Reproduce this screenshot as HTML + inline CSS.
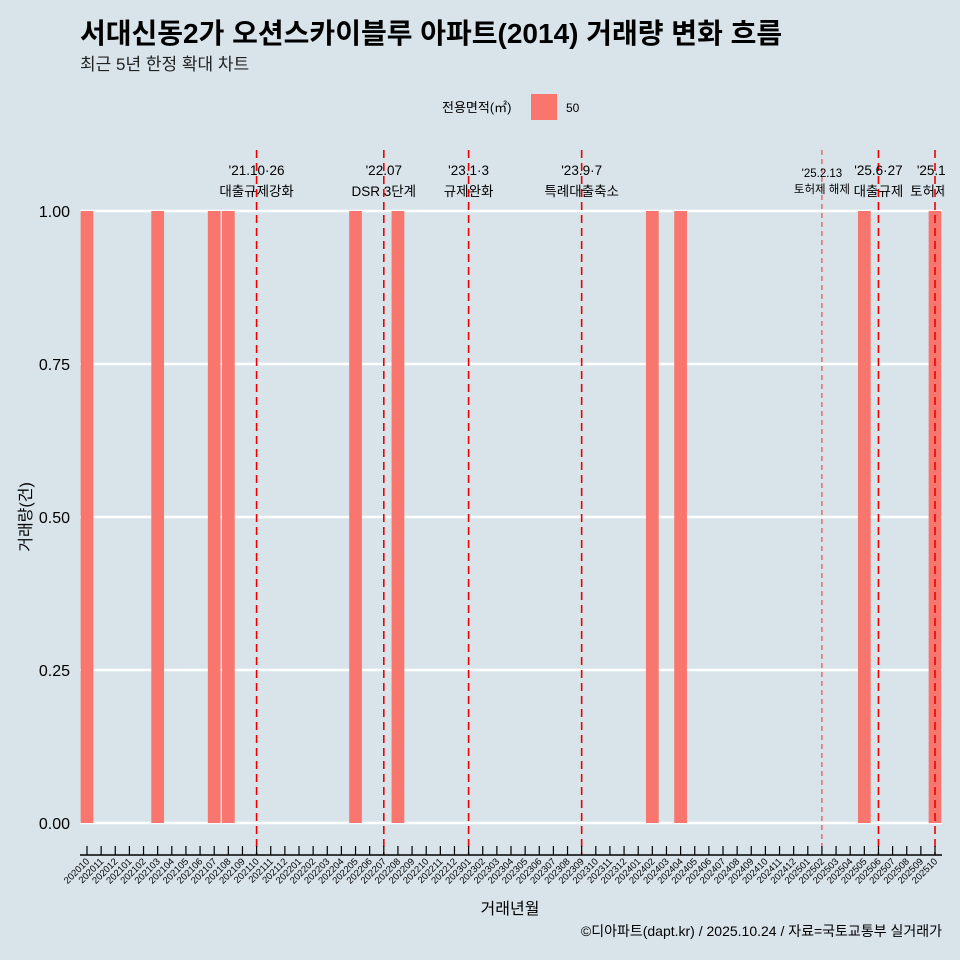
<!DOCTYPE html>
<html><head><meta charset="utf-8"><style>
body{margin:0;background:#d8e4ea;}
svg{display:block;font-family:"Liberation Sans","Noto Sans CJK KR",sans-serif;}
</style></head><body>
<svg id="c" width="960" height="960">
<rect width="960" height="960" fill="#d8e4ea"/>
<text x="80" y="43" font-size="28" font-weight="bold" fill="#000">서대신동2가 오션스카이블루 아파트(2014) 거래량 변화 흐름</text>
<text x="80" y="70" font-size="17" fill="#222">최근 5년 한정 확대 차트</text>
<g>
<text x="442" y="112" font-size="13">전용면적(㎡)</text>
<rect x="531" y="94" width="26" height="26" fill="#f8766d"/>
<text x="566" y="112" font-size="12">50</text>
</g>
<defs><clipPath id="pc"><rect x="80" y="140" width="865" height="720"/></clipPath></defs>
<g id="grid"></g><g id="bars"></g><g id="vl" clip-path="url(#pc)"></g><g id="ax"></g>
<text x="510" y="914" font-size="16" text-anchor="middle">거래년월</text>
<text transform="translate(31,517) rotate(-90)" font-size="16" text-anchor="middle">거래량(건)</text>
<text x="942" y="936" font-size="14" text-anchor="end">©디아파트(dapt.kr) / 2025.10.24 / 자료=국토교통부 실거래가</text>
</svg>
<script>
const months=[];for(let y=2020,m=10;!(y===2025&&m===11);){months.push(y+String(m).padStart(2,'0'));m++;if(m>12){m=1;y++;}}
const barMonths=["202010","202103","202107","202108","202205","202208","202402","202404","202505","202510"];
const barValues=[1,1,1,1,1,1,1,1,1,1];
const yTicks=[0,0.25,0.5,0.75,1];
const yTickLabels=["0.00","0.25","0.50","0.75","1.00"];
const eventMonths=["202110","202207","202301","202309","202502","202506","202510"];
const eventLine1=["'21.10·26","'22.07","'23.1·3","'23.9·7","'25.2.13","'25.6·27","'25.10"];
const eventLine2=["대출규제강화","DSR 3단계","규제완화","특례대출축소","토허제 해제","대출규제","토허제확"];
const NS="http://www.w3.org/2000/svg";
function X(m){return 87+months.indexOf(m)*(848/60);}
function Y(v){return 823-v*612;}
function mk(t,a,p,txt){const e=document.createElementNS(NS,t);for(const k in a)e.setAttribute(k,a[k]);if(txt!==undefined)e.textContent=txt;p.appendChild(e);return e;}
const G=document.getElementById('grid'),B=document.getElementById('bars'),V=document.getElementById('vl'),A=document.getElementById('ax');
yTicks.forEach((v,i)=>{
 const l=mk('line',{x1:80,x2:942,y1:Y(v),y2:Y(v),stroke:'#fff','stroke-width':2.5},G);
 
 
 const t=mk('text',{x:70,y:Y(v)+6,'font-size':16,'text-anchor':'end'},A,yTickLabels[i]);
 
 
});
const bw=848/60*0.9;
barMonths.forEach((m,i)=>{
 const r=mk('rect',{x:X(m)-bw/2,y:Y(barValues[i]),width:bw,height:Y(0)-Y(barValues[i]),fill:'#f8766d'},B);
 
 
});
eventMonths.forEach((m,i)=>{
 const x=X(m),small=m==="202502";
 const l=mk('line',{x1:x,x2:x,y1:150,y2:855,stroke:small?'#f03030':'#ee0000','stroke-width':small?1:1.6,'stroke-dasharray':small?'5,4':'8,5'},V);
 
 
 const fs=small?11.5:13.5;
 const t1=mk('text',{x:x,y:small?177:175,'font-size':fs,'text-anchor':'middle'},V,eventLine1[i]);
 
 
 const t2=mk('text',{x:x,y:small?193:196,'font-size':fs,'text-anchor':'middle'},V,eventLine2[i]);
 
 
});
const ax=mk('line',{x1:80,x2:942,y1:855,y2:855,stroke:'#000','stroke-width':1.5},A);


months.forEach(m=>{
 const x=X(m);
 const tk=mk('line',{x1:x,x2:x,y1:846,y2:855,stroke:'#000','stroke-width':1.2},A);
 
 
 const t=mk('text',{x:x+3,y:862,'font-size':9.5,'text-anchor':'end',transform:`rotate(-45 ${x+3} 862)`},A,m);
 
 
});
</script>
</body></html>
